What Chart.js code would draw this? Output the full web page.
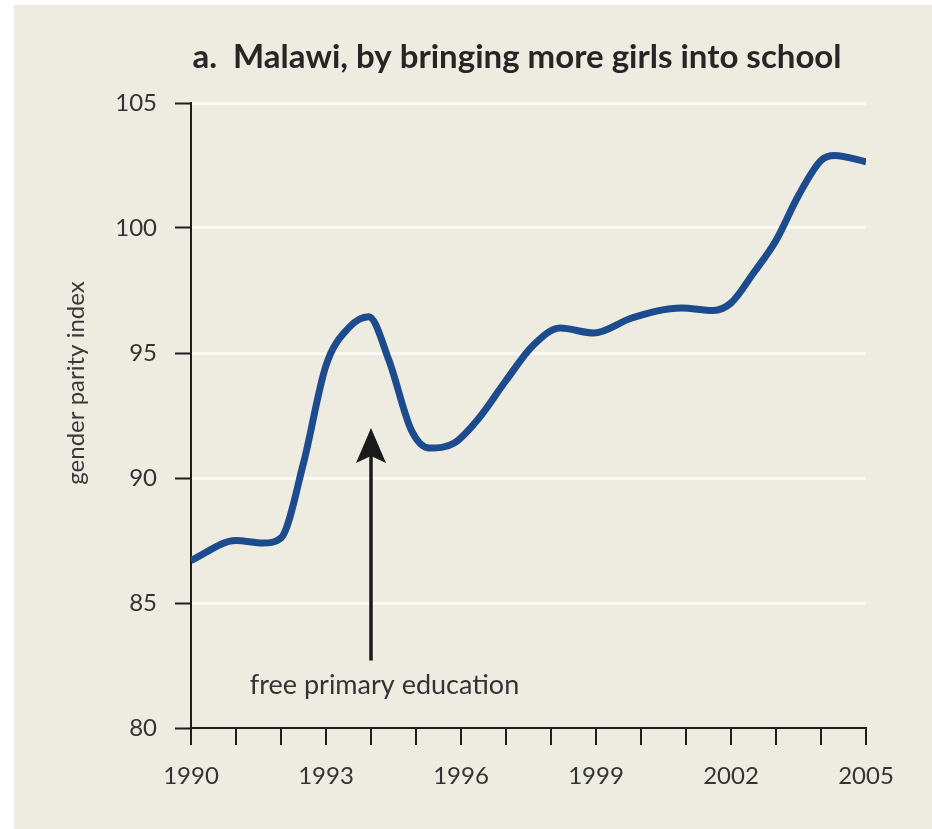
<!DOCTYPE html>
<html><head><meta charset="utf-8">
<script src="https://cdn.jsdelivr.net/npm/chart.js@4"></script>
<style>
html,body{margin:0;padding:0;background:#ffffff;width:932px;height:829px;overflow:hidden}
#wrap{position:absolute;left:14px;top:5px;width:918px;height:824px;background:#eeebe1}
canvas{display:block}
</style></head><body>
<div id="wrap"><canvas id="c" width="918" height="824"></canvas></div>
<script>
// ---- data ----
const titleText = 'a.  Malawi, by bringing more girls into school';
const yAxisTitle = 'gender parity index';
const years = [1990, 1991, 1991.6, 1992, 1992.5, 1993, 1993.5, 1993.95, 1994.4, 1994.9, 1995.3, 1995.85, 1996.4, 1997, 1997.6, 1998.2, 1998.95, 1999.8, 2000.9, 2001.6, 2002, 2002.5, 2003, 2003.5, 2004, 2004.3, 2005];
const gpi   = [86.7, 87.5, 87.4, 87.6, 90.6, 94.5, 96.0, 96.45, 94.7, 91.9, 91.2, 91.4, 92.4, 93.9, 95.3, 96.0, 95.8, 96.4, 96.8, 96.7, 97.0, 98.2, 99.5, 101.3, 102.7, 102.9, 102.65];
const yTickValues = [80, 85, 90, 95, 100, 105];
const xTickYears = [1990, 1991, 1992, 1993, 1994, 1995, 1996, 1997, 1998, 1999, 2000, 2001, 2002, 2003, 2004, 2005];
const xLabelYears = [1990, 1993, 1996, 1999, 2002, 2005];
const annotationText = 'free primary education';
const annotationYear = 1994;
const arrowBottomValue = 82.7;
const arrowTipValue = 92.0;
const annotationTextYear = 1994.3;
const annotationTextValue = 81.7;

const FONT = 'Lato, "Open Sans", "Noto Sans", sans-serif';
const TEXT = '#333333';
const AXIS = '#1e1e1e';

const decor = {
  id: 'decor',
  afterDraw(chart) {
    const ctx = chart.ctx;
    const xs = chart.scales.x, ys = chart.scales.y;
    ctx.save();
    // title
    ctx.fillStyle = '#262626';
    ctx.font = 'bold 33px ' + FONT;
    ctx.textAlign = 'center';
    ctx.textBaseline = 'middle';
    ctx.fillText(titleText, 503, 52);
    // y axis title
    ctx.save();
    ctx.translate(62, 378);
    ctx.rotate(-Math.PI / 2);
    ctx.font = '24px ' + FONT;
    ctx.fillStyle = '#3a3a3a';
    ctx.fillText(yAxisTitle, 0, 0);
    ctx.restore();
    // arrow
    const ax = xs.getPixelForValue(annotationYear);
    const yb = ys.getPixelForValue(arrowBottomValue);
    const yt = ys.getPixelForValue(arrowTipValue);
    ctx.strokeStyle = '#1a1a1a';
    ctx.fillStyle = '#1a1a1a';
    ctx.lineWidth = 3.5;
    ctx.beginPath();
    ctx.moveTo(ax, yb);
    ctx.lineTo(ax, yt + 20);
    ctx.stroke();
    ctx.beginPath();
    ctx.moveTo(ax, yt);
    ctx.lineTo(ax + 15, yt + 35);
    ctx.lineTo(ax, yt + 28);
    ctx.lineTo(ax - 15, yt + 35);
    ctx.closePath();
    ctx.fill();
    // annotation text
    ctx.font = '27px ' + FONT;
    ctx.fillStyle = TEXT;
    ctx.textAlign = 'center';
    ctx.textBaseline = 'middle';
    ctx.fillText(annotationText, xs.getPixelForValue(annotationTextYear), ys.getPixelForValue(annotationTextValue));
    ctx.restore();
  }
};

new Chart(document.getElementById('c'), {
  type: 'line',
  data: {
    datasets: [{
      label: 'gender parity index',
      data: years.map((x, i) => ({ x: x, y: gpi[i] })),
      borderColor: '#1c4b8e',
      borderWidth: 7,
      pointRadius: 0,
      fill: false,
      cubicInterpolationMode: 'monotone',
      borderCapStyle: 'butt',
      borderJoinStyle: 'round'
    }]
  },
  options: {
    responsive: false,
    animation: false,
    layout: { padding: { left: 0, top: 98, right: 66, bottom: 11 } },
    plugins: { legend: { display: false }, title: { display: false }, tooltip: { enabled: false } },
    scales: {
      x: {
        type: 'linear', min: 1990, max: 2005,
        afterFit: s => { s.height = 90; },
        afterBuildTicks: s => { s.ticks = xTickYears.map(v => ({ value: v })); },
        ticks: {
          autoSkip: false, maxRotation: 0, padding: 17,
          color: TEXT, font: { family: FONT, size: 24 },
          callback: v => xLabelYears.includes(v) ? String(v) : ''
        },
        grid: { drawOnChartArea: false, drawTicks: true, tickLength: 17, tickColor: AXIS, tickWidth: 2, color: AXIS, lineWidth: 2 },
        border: { display: true, color: AXIS, width: 2 }
      },
      y: {
        min: 80, max: 105,
        afterFit: s => { s.width = 177; },
        afterBuildTicks: s => { s.ticks = yTickValues.map(v => ({ value: v })); },
        ticks: { padding: 18, color: TEXT, font: { family: FONT, size: 24 } },
        grid: {
          drawTicks: true, tickLength: 16, tickColor: AXIS, tickWidth: 2,
          color: c => (c.tick && c.tick.value === 80) ? 'rgba(0,0,0,0)' : '#fbf9f2',
          lineWidth: 3
        },
        border: { display: true, color: AXIS, width: 2 }
      }
    }
  },
  plugins: [decor]
});
</script>
</body></html>
